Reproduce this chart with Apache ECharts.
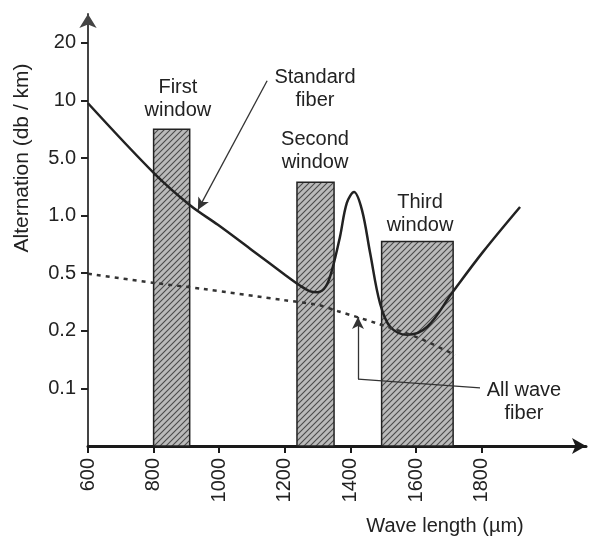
<!DOCTYPE html>
<html>
<head>
<meta charset="utf-8">
<script src="https://cdn.jsdelivr.net/npm/echarts@6/dist/echarts.min.js"></script>
<style>
  html, body { margin: 0; padding: 0; background: #fff; }
  #chart { width: 593px; height: 536px; }
</style>
</head>
<body>
<div id="chart"></div>
<script>
// y axis is a ladder: level 1..7 carry these labels
var yLabels = ['0.1', '0.2', '0.5', '1.0', '5.0', '10', '20'];
var yLevels = [1, 2, 3, 4, 5, 6, 7];
var xTicks = [600, 800, 1000, 1200, 1400, 1600, 1800];

// transmission windows (wavelength range, top level)
var windowStart = [800, 1237, 1495];
var windowEnd = [910, 1350, 1713];
var windowTop = [5.5, 4.58, 3.55];

// standard fiber curve
var stdX = [600, 804, 911, 996, 1100, 1201, 1245, 1275, 1300, 1325, 1344, 1368, 1389, 1411, 1435, 1460, 1490, 1521, 1573, 1634, 1710, 1804, 1917];
var stdY = [5.95, 4.72, 4.18, 3.84, 3.40, 2.97, 2.79, 2.69, 2.67, 2.77, 3.06, 3.63, 4.22, 4.41, 4.10, 3.35, 2.48, 2.07, 1.93, 2.07, 2.66, 3.37, 4.15];

// all wave fiber curve
var allX = [600, 804, 947, 1201, 1301, 1362, 1475, 1606, 1719];
var allY = [2.99, 2.83, 2.73, 2.53, 2.45, 2.34, 2.14, 1.88, 1.58];

var FONT = 'Liberation Sans, Arial, sans-serif';

// hatch pattern for the window bars
var pat = document.createElement('canvas');
pat.width = 6; pat.height = 6;
var pc = pat.getContext('2d');
pc.fillStyle = '#bababa';
pc.fillRect(0, 0, 6, 6);
pc.strokeStyle = '#4a4a4a';
pc.lineWidth = 1.1;
pc.beginPath();
pc.moveTo(-1, 7); pc.lineTo(7, -1);
pc.moveTo(-4, 4); pc.lineTo(4, -4);
pc.moveTo(2, 10); pc.lineTo(10, 2);
pc.stroke();

var myChart = echarts.init(document.getElementById('chart'));

var option = {
    animation: false,
    backgroundColor: '#fff',
    grid: { left: 88, right: 7, top: 14, bottom: 90, containLabel: false },
    xAxis: {
        type: 'value',
        min: 600,
        max: 2118,
        splitLine: { show: false },
        axisLine: {
            lineStyle: { color: '#1a1a1a', width: 3 },
            symbol: ['none', 'arrow'],
            symbolSize: [12, 14]
        },
        axisTick: {
            customValues: xTicks,
            length: 7,
            lineStyle: { color: '#1a1a1a', width: 2 }
        },
        axisLabel: {
            customValues: xTicks,
            rotate: 90,
            margin: 12,
            fontSize: 20,
            fontFamily: FONT,
            color: '#222',
            formatter: function(v) { return String(v); }
        }
    },
    yAxis: {
        type: 'value',
        min: 0,
        max: 7.5,
        splitLine: { show: false },
        axisLine: {
            lineStyle: { color: '#444', width: 2 },
            symbol: ['none', 'arrow'],
            symbolSize: [13, 14]
        },
        axisTick: {
            customValues: yLevels,
            length: 7,
            lineStyle: { color: '#222', width: 2 }
        },
        axisLabel: {
            customValues: yLevels,
            margin: 12,
            fontSize: 20,
            fontFamily: FONT,
            color: '#222',
            formatter: function(v) { return yLabels[Math.round(v) - 1]; }
        }
    },
    series: [{
        type: 'custom',
        z: 1,
        data: windowStart.map(function(s, i) { return [s, windowEnd[i], windowTop[i]]; }),
        encode: { x: [0, 1], y: 2 },
        renderItem: function(params, api) {
            var p0 = api.coord([api.value(0), api.value(2)]);
            var p1 = api.coord([api.value(1), 0]);
            return {
                type: 'rect',
                shape: { x: p0[0], y: p0[1], width: p1[0] - p0[0], height: p1[1] - p0[1] },
                style: { fill: { image: pat, repeat: 'repeat' }, stroke: '#222', lineWidth: 1.5 }
            };
        }
    }, {
        name: 'Standard fiber',
        type: 'line',
        z: 3,
        smooth: 0.35,
        showSymbol: false,
        data: stdX.map(function(x, i) { return [x, stdY[i]]; }),
        lineStyle: { color: '#222', width: 2.5 },
        markLine: {
            silent: true,
            symbolSize: [9, 12],
            label: { show: false },
            lineStyle: { color: '#333', width: 1.3, type: 'solid' },
            data: [
                [{ coord: [1146, 6.34], symbol: 'none' }, { coord: [935, 4.10], symbol: 'arrow' }],
                [{ coord: [1795, 1.01], symbol: 'none' }, { coord: [1423, 1.16], symbol: 'none' }],
                [{ coord: [1423, 1.16], symbol: 'none' }, { coord: [1423, 2.24], symbol: 'arrow' }]
            ]
        }
    }, {
        name: 'All wave fiber',
        type: 'line',
        z: 3,
        smooth: 0.3,
        showSymbol: false,
        data: allX.map(function(x, i) { return [x, allY[i]]; }),
        lineStyle: { color: '#333', width: 2.5, type: [4, 5] }
    }]
};

myChart.setOption(option);

// annotation texts placed through the axes
var notes = [
    { text: 'First\nwindow', at: [874, 6.03] },
    { text: 'Standard\nfiber', at: [1292, 6.19] },
    { text: 'Second\nwindow', at: [1292, 5.12] },
    { text: 'Third\nwindow', at: [1612, 4.03] },
    { text: 'All wave\nfiber', at: [1929, 0.77] }
];
var graphics = notes.map(function(n) {
    var p = myChart.convertToPixel({ gridIndex: 0 }, n.at);
    return {
        type: 'text', x: p[0], y: p[1], silent: true,
        style: { text: n.text, fontSize: 20, fontFamily: FONT, fill: '#222', align: 'center', verticalAlign: 'middle', lineHeight: 23 }
    };
});
graphics.push({
    type: 'text', x: 22, y: 158, rotation: Math.PI / 2, silent: true,
    style: { text: 'Alternation (db / km)', fontSize: 21, fontFamily: FONT, fill: '#222', align: 'center', verticalAlign: 'middle' }
});
graphics.push({
    type: 'text', x: 445, y: 526, silent: true,
    style: { text: 'Wave length (\u00b5m)', fontSize: 20, fontFamily: FONT, fill: '#222', align: 'center', verticalAlign: 'middle' }
});
myChart.setOption({ graphic: graphics });
</script>
</body>
</html>
